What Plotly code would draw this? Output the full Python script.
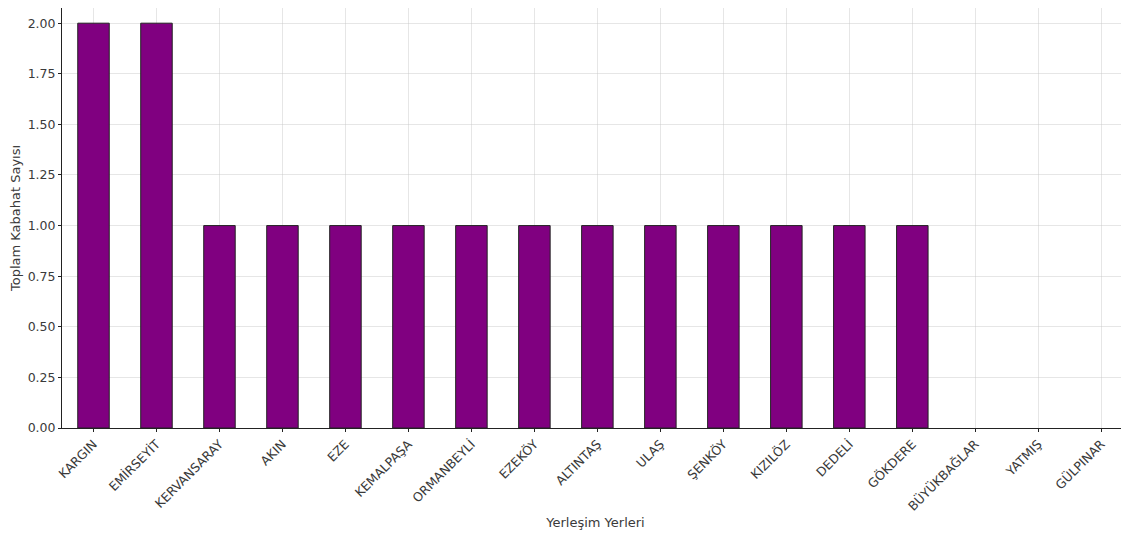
import plotly.graph_objects as go

# settlements and total offence counts
yerlesim = ["KARGIN", "EMİRSEYİT", "KERVANSARAY", "AKIN", "EZE", "KEMALPAŞA",
            "ORMANBEYLİ", "EZEKÖY", "ALTINTAŞ", "ULAŞ", "ŞENKÖY", "KIZILÖZ",
            "DEDELİ", "GÖKDERE", "BÜYÜKBAĞLAR", "YATMIŞ", "GÜLPINAR"]
kabahat = [2, 2, 1, 1, 1, 1, 1, 1, 1, 1, 1, 1, 1, 1, 0, 0, 0]
y_ticks = [0, 0.25, 0.5, 0.75, 1.0, 1.25, 1.5, 1.75, 2.0]

fig = go.Figure()
fig.add_trace(go.Bar(
    x=list(range(len(yerlesim))),
    y=kabahat,
    width=0.5,
    marker=dict(color="#800080",
                # no outline on empty bars
                line=dict(color="#222222", width=[1 if v > 0 else 0 for v in kabahat])),
))

# page body has an 8px default margin, so the figure is sized to fit inside it
fig.update_layout(
    width=1121, height=530,
    margin=dict(l=54, r=0, t=0, b=110),
    paper_bgcolor="white", plot_bgcolor="white",
    font=dict(family="DejaVu Sans", size=13, color="#3a3a3a"),
    showlegend=False,
    xaxis=dict(
        tickmode="array",
        tickvals=list(range(len(yerlesim))),
        ticktext=yerlesim,
        tickangle=-45,
        range=[-0.5, 16.44],
        automargin=False,
        showline=True, linecolor="#222222", linewidth=1,
        showgrid=True, gridcolor="rgba(200,200,200,0.45)", gridwidth=1,
        ticks="outside", ticklen=3, tickcolor="#222222",
        tickfont=dict(size=12.5),
        title=dict(text="Yerleşim Yerleri", font=dict(size=13), standoff=5),
        zeroline=False,
    ),
    yaxis=dict(
        tickmode="array",
        tickvals=y_ticks,
        ticktext=[f"{v:.2f}" for v in y_ticks],
        range=[0, 2.075],
        automargin=False,
        showline=True, linecolor="#222222", linewidth=1,
        showgrid=True, gridcolor="rgba(200,200,200,0.45)", gridwidth=1,
        ticks="outside", ticklen=3, tickcolor="#222222",
        tickfont=dict(size=12.5),
        title=dict(text="Toplam Kabahat Sayısı", font=dict(size=13), standoff=6),
        zeroline=False,
    ),
)

fig.write_html("out.html")
